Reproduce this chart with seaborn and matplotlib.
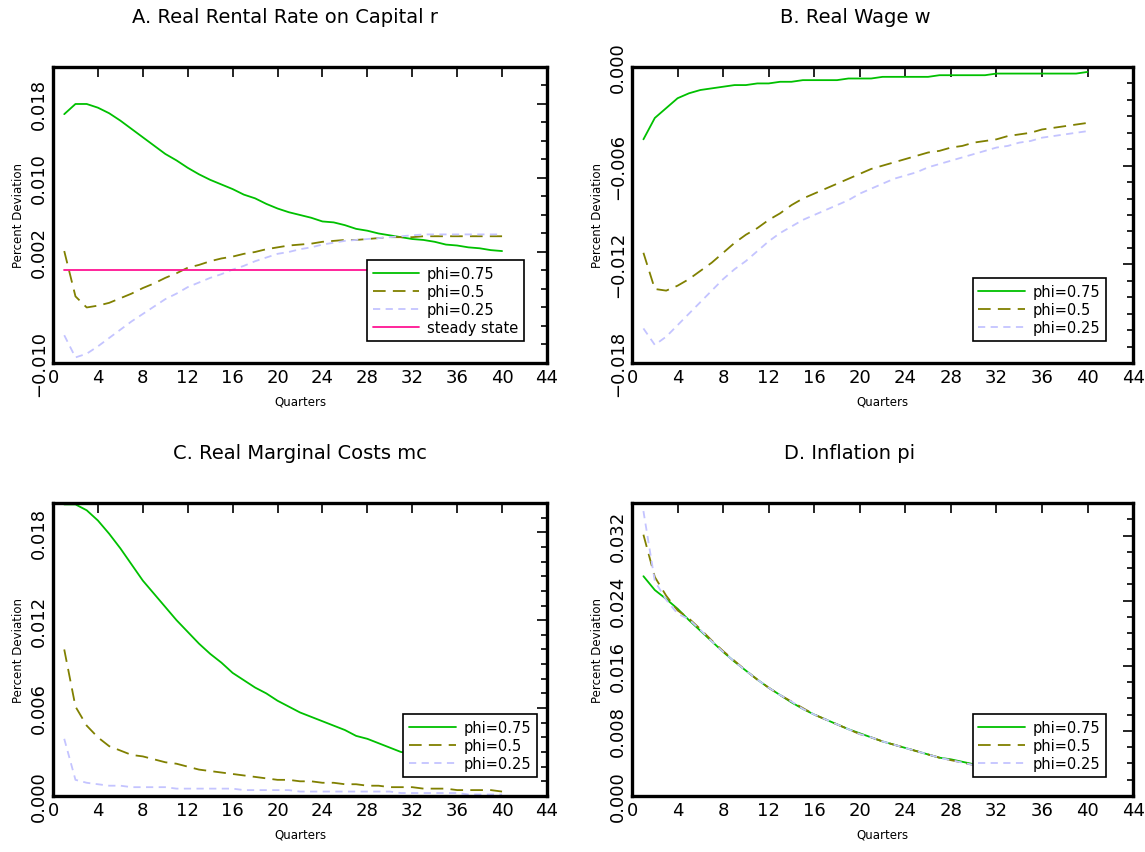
import numpy as np
import pandas as pd
import matplotlib
matplotlib.use("Agg")
import matplotlib.pyplot as plt
import seaborn as sns
from matplotlib.ticker import MultipleLocator, FixedLocator

# quarters after the shock
quarters = list(range(1, 41))

# A. real rental rate on capital
r_phi75 = [0.0169, 0.0180, 0.0180, 0.0176, 0.0170, 0.0162, 0.0153, 0.0144, 0.0135, 0.0126,
           0.0119, 0.0111, 0.0104, 0.0098, 0.0093, 0.0088, 0.0082, 0.0078, 0.0072, 0.0067,
           0.0063, 0.0060, 0.0057, 0.0053, 0.0052, 0.0049, 0.0045, 0.0043, 0.0040, 0.0038,
           0.0036, 0.0034, 0.0033, 0.0031, 0.0028, 0.0027, 0.0025, 0.0024, 0.0022, 0.0021]
r_phi50 = [0.0021, -0.0028, -0.0040, -0.0038, -0.0035, -0.0030, -0.0025, -0.0019, -0.0014, -0.0008,
           -0.0003, 0.0003, 0.0006, 0.0010, 0.0013, 0.0015, 0.0018, 0.0020, 0.0023, 0.0025,
           0.0027, 0.0028, 0.0029, 0.0031, 0.0032, 0.0033, 0.0033, 0.0034, 0.0035, 0.0036,
           0.0036, 0.0036, 0.0037, 0.0037, 0.0037, 0.0037, 0.0037, 0.0037, 0.0037, 0.0037]
r_phi25 = [-0.0070, -0.0094, -0.0090, -0.0082, -0.0073, -0.0064, -0.0055, -0.0047, -0.0039, -0.0031,
           -0.0025, -0.0018, -0.0013, -0.0008, -0.0004, 0.0001, 0.0005, 0.0010, 0.0014, 0.0018,
           0.0020, 0.0023, 0.0025, 0.0028, 0.0030, 0.0032, 0.0033, 0.0034, 0.0035, 0.0036,
           0.0037, 0.0038, 0.0039, 0.0039, 0.0039, 0.0039, 0.0039, 0.0039, 0.0039, 0.0039]
r_steady = [0.0] * 40

# B. real wage
w_phi75 = [-0.0044, -0.0031, -0.0025, -0.0019, -0.0016, -0.0014, -0.0013, -0.0012, -0.0011, -0.0011,
           -0.0010, -0.0010, -0.0009, -0.0009, -0.0008, -0.0008, -0.0008, -0.0008, -0.0007, -0.0007,
           -0.0007, -0.0006, -0.0006, -0.0006, -0.0006, -0.0006, -0.0005, -0.0005, -0.0005, -0.0005,
           -0.0005, -0.0004, -0.0004, -0.0004, -0.0004, -0.0004, -0.0004, -0.0004, -0.0004, -0.0003]
w_phi50 = [-0.0113, -0.0135, -0.0136, -0.0133, -0.0129, -0.0124, -0.0119, -0.0113, -0.0107, -0.0102,
           -0.0098, -0.0093, -0.0089, -0.0084, -0.0080, -0.0077, -0.0074, -0.0071, -0.0068, -0.0065,
           -0.0062, -0.0060, -0.0058, -0.0056, -0.0054, -0.0052, -0.0051, -0.0049, -0.0048, -0.0046,
           -0.0045, -0.0044, -0.0042, -0.0041, -0.0040, -0.0038, -0.0037, -0.0036, -0.0035, -0.0034]
w_phi25 = [-0.0159, -0.0169, -0.0164, -0.0157, -0.0150, -0.0143, -0.0136, -0.0129, -0.0123, -0.0118,
           -0.0112, -0.0106, -0.0101, -0.0097, -0.0093, -0.0090, -0.0087, -0.0084, -0.0081, -0.0077,
           -0.0074, -0.0071, -0.0068, -0.0066, -0.0064, -0.0061, -0.0059, -0.0057, -0.0055, -0.0053,
           -0.0051, -0.0049, -0.0048, -0.0046, -0.0045, -0.0043, -0.0042, -0.0041, -0.0040, -0.0039]

# C. real marginal costs
mc_phi75 = [0.0199, 0.0199, 0.0195, 0.0188, 0.0179, 0.0169, 0.0158, 0.0147, 0.0138, 0.0129,
            0.0120, 0.0112, 0.0104, 0.0097, 0.0091, 0.0084, 0.0079, 0.0074, 0.0070, 0.0065,
            0.0061, 0.0057, 0.0054, 0.0051, 0.0048, 0.0045, 0.0041, 0.0039, 0.0036, 0.0033,
            0.0030, 0.0029, 0.0028, 0.0027, 0.0026, 0.0025, 0.0024, 0.0023, 0.0022, 0.0021]
mc_phi50 = [0.0100, 0.0061, 0.0048, 0.0040, 0.0034, 0.0031, 0.0028, 0.0027, 0.0025, 0.0023,
            0.0022, 0.0020, 0.0018, 0.0017, 0.0016, 0.0015, 0.0014, 0.0013, 0.0012, 0.0011,
            0.0011, 0.0010, 0.0010, 0.0009, 0.0009, 0.0008, 0.0008, 0.0007, 0.0007, 0.0006,
            0.0006, 0.0006, 0.0005, 0.0005, 0.0005, 0.0004, 0.0004, 0.0004, 0.0004, 0.0003]
mc_phi25 = [0.0039, 0.0011, 0.0009, 0.0008, 0.0007, 0.0007, 0.0006, 0.0006, 0.0006, 0.0006,
            0.0005, 0.0005, 0.0005, 0.0005, 0.0005, 0.0005, 0.0004, 0.0004, 0.0004, 0.0004,
            0.0004, 0.0003, 0.0003, 0.0003, 0.0003, 0.0003, 0.0003, 0.0003, 0.0003, 0.0003,
            0.0002, 0.0002, 0.0002, 0.0002, 0.0002, 0.0002, 0.0001, 0.0001, 0.0001, 0.0001]

# D. inflation
pi_phi75 = [0.0270, 0.0253, 0.0242, 0.0230, 0.0216, 0.0203, 0.0190, 0.0177, 0.0165, 0.0154,
            0.0143, 0.0133, 0.0124, 0.0115, 0.0107, 0.0100, 0.0094, 0.0088, 0.0082, 0.0077,
            0.0072, 0.0067, 0.0063, 0.0059, 0.0055, 0.0051, 0.0047, 0.0045, 0.0042, 0.0039,
            0.0038, 0.0036, 0.0034, 0.0033, 0.0031, 0.0030, 0.0028, 0.0027, 0.0026, 0.0025]
pi_phi50 = [0.0321, 0.0269, 0.0246, 0.0228, 0.0218, 0.0205, 0.0191, 0.0178, 0.0166, 0.0154,
            0.0143, 0.0133, 0.0124, 0.0116, 0.0108, 0.0100, 0.0094, 0.0088, 0.0082, 0.0076,
            0.0072, 0.0067, 0.0063, 0.0059, 0.0055, 0.0051, 0.0047, 0.0044, 0.0041, 0.0038,
            0.0037, 0.0036, 0.0034, 0.0033, 0.0031, 0.0030, 0.0028, 0.0027, 0.0026, 0.0025]
pi_phi25 = [0.0350, 0.0264, 0.0241, 0.0224, 0.0217, 0.0204, 0.0190, 0.0177, 0.0165, 0.0154,
            0.0143, 0.0133, 0.0124, 0.0116, 0.0107, 0.0100, 0.0094, 0.0088, 0.0082, 0.0076,
            0.0072, 0.0067, 0.0063, 0.0059, 0.0055, 0.0051, 0.0047, 0.0044, 0.0041, 0.0038,
            0.0037, 0.0036, 0.0034, 0.0033, 0.0031, 0.0030, 0.0028, 0.0027, 0.0026, 0.0025]

sns.set_style("white")
plt.rcParams['font.family'] = ['DejaVu Sans']
plt.rcParams['text.color'] = 'black'
plt.rcParams['axes.labelcolor'] = 'black'
plt.rcParams['xtick.color'] = 'black'
plt.rcParams['ytick.color'] = 'black'

green = '#00c000'
olive = '#808000'
lilac = '#c4c4ff'
pink = '#ff1493'

styles = {
    'phi=0.75': dict(color=green, linestyle='-'),
    'phi=0.5': dict(color=olive, linestyle=(0, (7, 4))),
    'phi=0.25': dict(color=lilac, linestyle=(0, (4, 3))),
    'steady state': dict(color=pink, linestyle='-'),
}

fig = plt.figure(figsize=(11.45, 8.53), dpi=100)

panels = [
    # title, rect, series, ylim, major ticks, tick labels, minor step, title x, legend anchor
    ('A. Real Rental Rate on Capital r', [0.0463, 0.5733, 0.4314, 0.3470],
     {'phi=0.75': r_phi75, 'phi=0.5': r_phi50, 'phi=0.25': r_phi25, 'steady state': r_steady},
     (-0.010, 0.022), [-0.010, 0.002, 0.010, 0.018], ['\u22120.010', '0.002', '0.010', '0.018'],
     0.002, 0.249, (0.968, 0.05)),
    ('B. Real Wage w', [0.552, 0.5733, 0.4376, 0.3470],
     {'phi=0.75': w_phi75, 'phi=0.5': w_phi50, 'phi=0.25': w_phi25},
     (-0.018, 0.0), [-0.018, -0.012, -0.006, 0.0], ['\u22120.018', '\u22120.012', '\u22120.006', '0.000'],
     0.001, 0.747, (0.96, 0.05)),
    ('C. Real Marginal Costs mc', [0.0463, 0.0657, 0.4314, 0.3435],
     {'phi=0.75': mc_phi75, 'phi=0.5': mc_phi50, 'phi=0.25': mc_phi25},
     (0.0, 0.020), [0.0, 0.006, 0.012, 0.018], ['0.000', '0.006', '0.012', '0.018'],
     0.001, 0.262, (0.994, 0.04)),
    ('D. Inflation pi', [0.552, 0.0657, 0.4376, 0.3435],
     {'phi=0.75': pi_phi75, 'phi=0.5': pi_phi50, 'phi=0.25': pi_phi25},
     (0.0, 0.036), [0.0, 0.008, 0.016, 0.024, 0.032], ['0.000', '0.008', '0.016', '0.024', '0.032'],
     0.002, 0.742, (0.96, 0.04)),
]

for title, rect, series, ylim, yt, ytl, ystep, tx, anchor in panels:
    ax = fig.add_axes(rect)
    for name, vals in series.items():
        df = pd.DataFrame({'quarter': quarters, 'value': vals})
        sns.lineplot(data=df, x='quarter', y='value', ax=ax, label=name,
                     linewidth=1.3, **styles[name])
    ax.set_xlim(0, 44)
    ax.set_ylim(*ylim)
    ax.xaxis.set_major_locator(MultipleLocator(4))
    ax.yaxis.set_major_locator(FixedLocator(yt))
    ax.set_yticklabels(ytl)
    ax.yaxis.set_minor_locator(MultipleLocator(ystep))
    ax.tick_params(which='both', direction='in', top=True, right=True, width=1.2,
                   labelsize=13, colors='black')
    ax.tick_params(which='major', length=7)
    ax.tick_params(which='minor', length=4)
    plt.setp(ax.get_yticklabels(), rotation=90, va='center')
    for s in ax.spines.values():
        s.set_linewidth(2.4)
        s.set_color('black')
    ax.set_xlabel('Quarters', fontsize=8.5, labelpad=6, color='black')
    ax.set_ylabel('Percent Deviation', fontsize=8.5, labelpad=4, color='black')
    leg = ax.legend(loc='lower right', bbox_to_anchor=anchor, fontsize=10.5, frameon=True,
                    fancybox=False, framealpha=1, edgecolor='black', handlelength=3.2,
                    borderpad=0.4, labelspacing=0.2, handletextpad=0.5)
    leg.get_frame().set_linewidth(1.2)
    for t in leg.get_texts():
        t.set_color('black')
    fig.text(tx, rect[1] + rect[3] + 0.059, title, ha='center', va='center',
             fontsize=14, color='black')

plt.savefig('out.png', dpi=100)
